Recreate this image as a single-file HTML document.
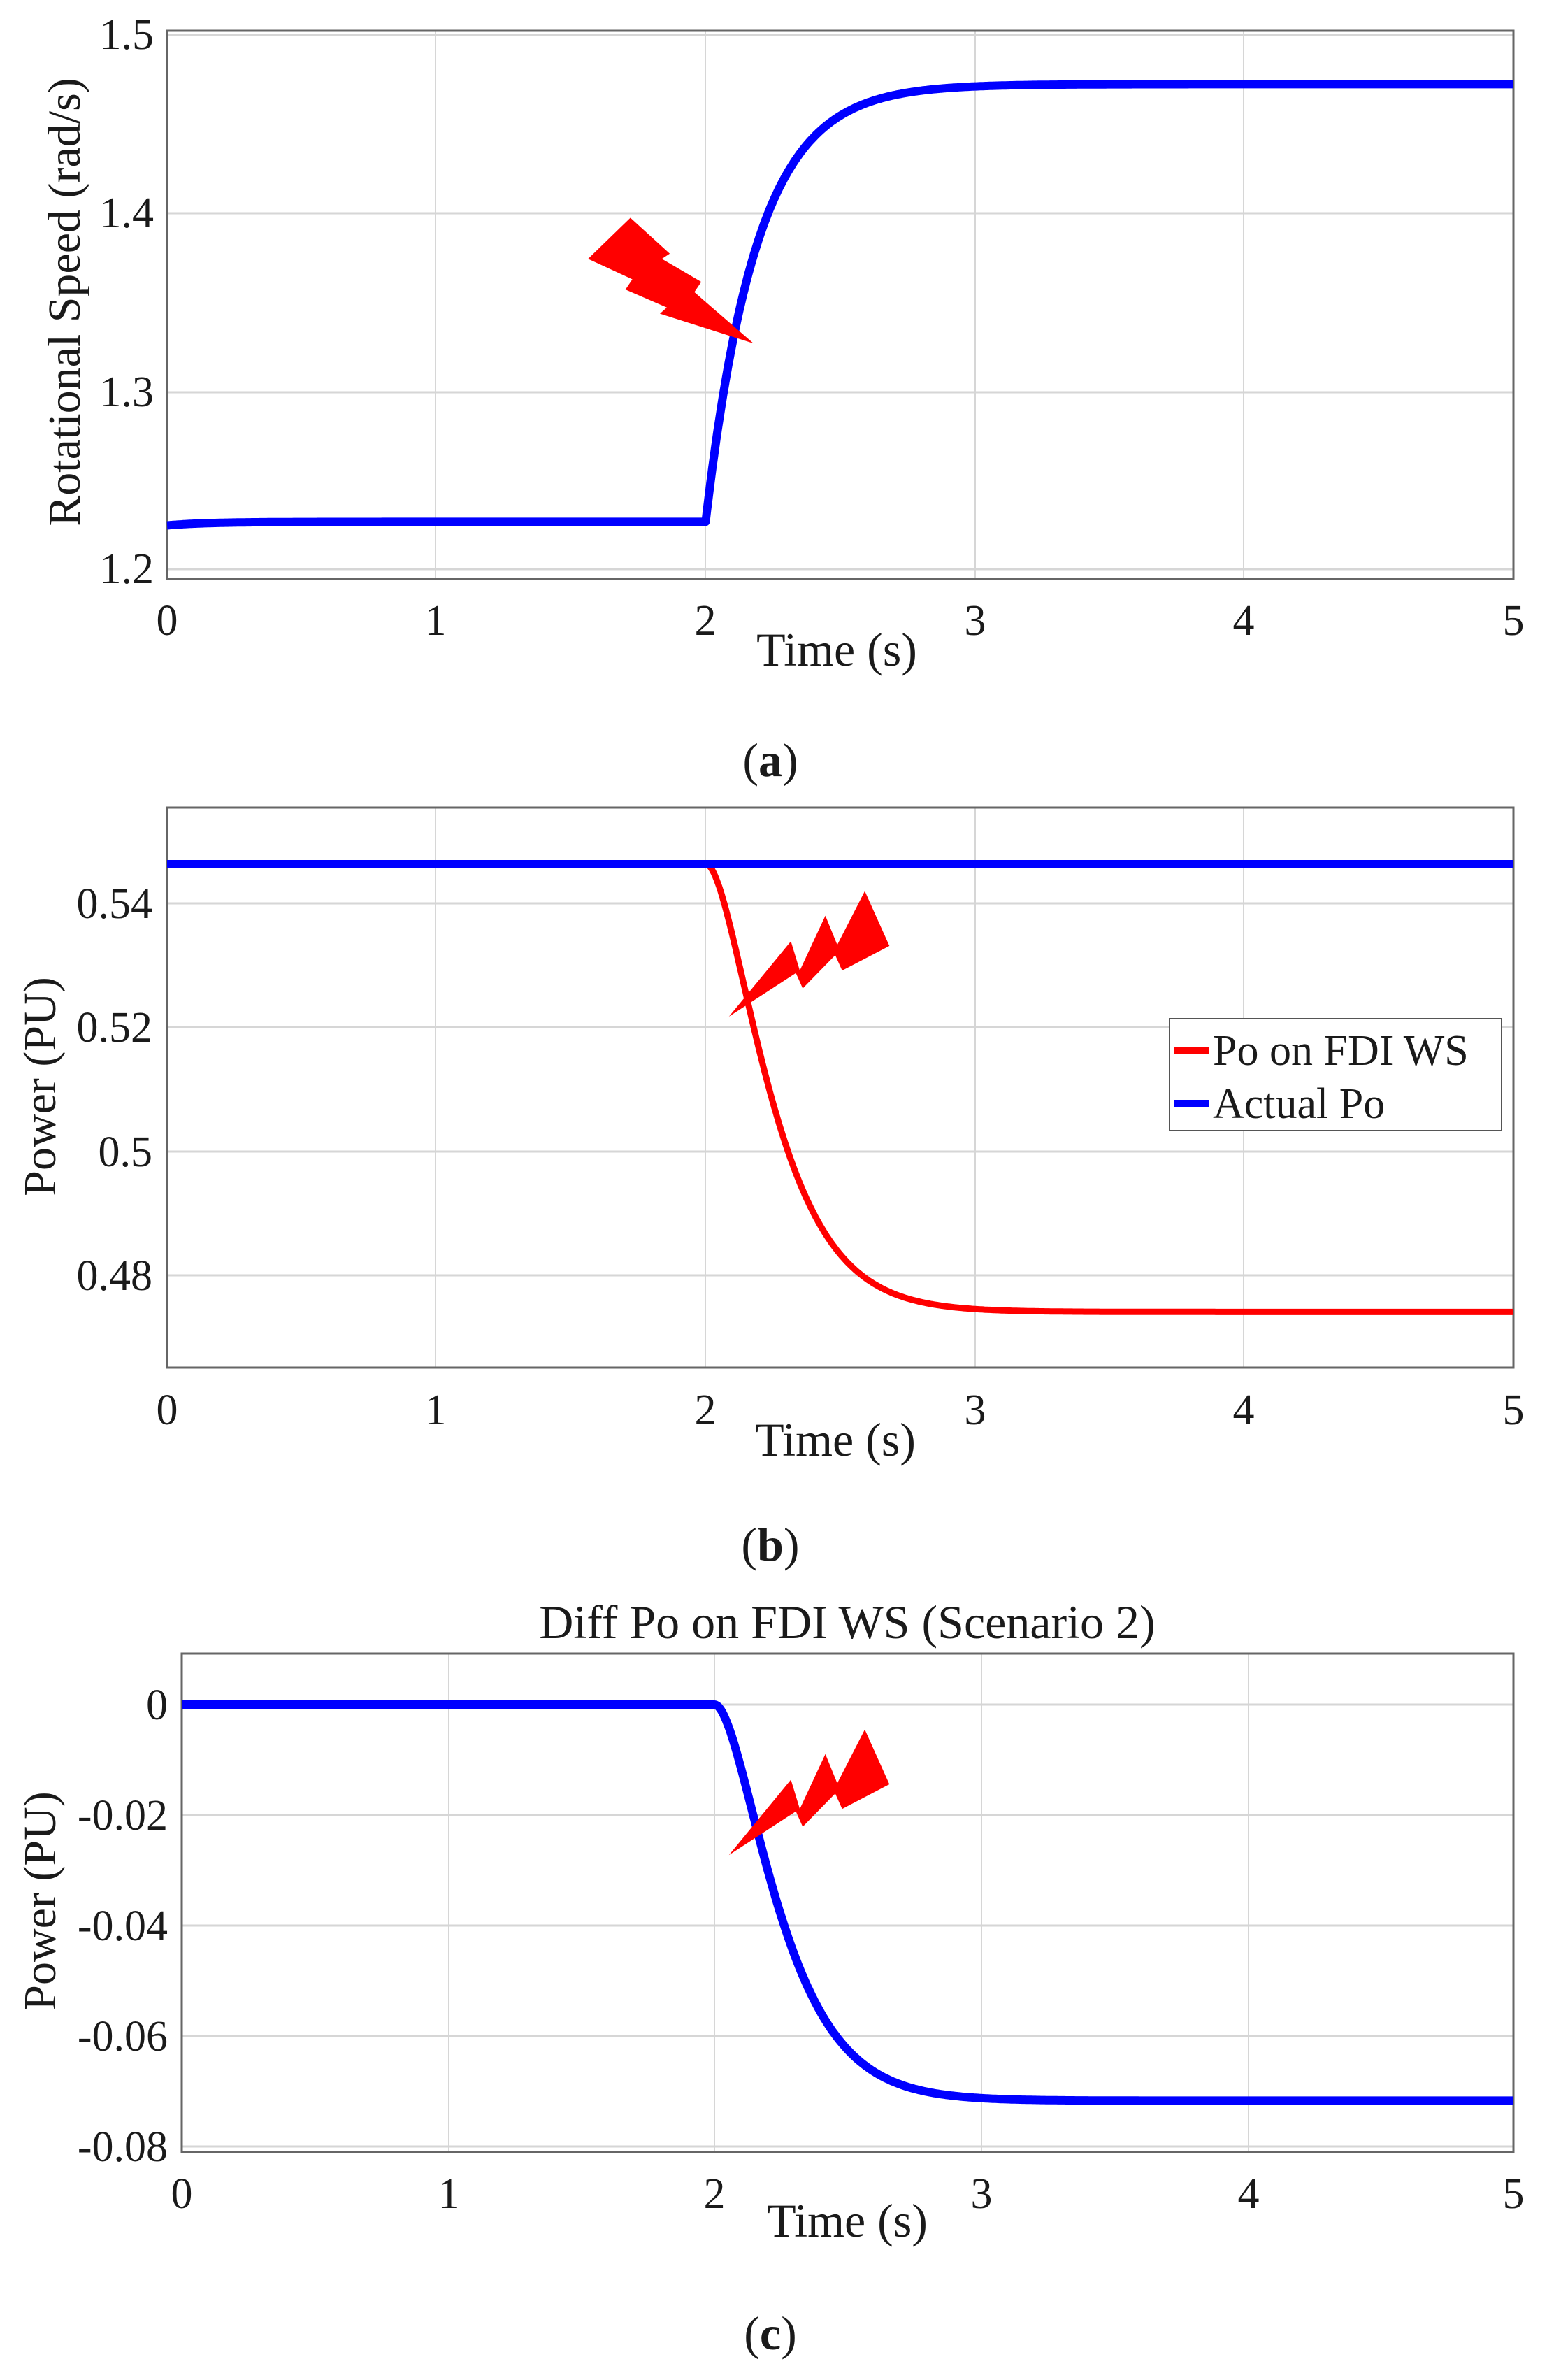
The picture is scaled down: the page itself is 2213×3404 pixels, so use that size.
<!DOCTYPE html>
<html><head><meta charset="utf-8">
<style>
html,body{margin:0;padding:0;background:#fff;}
svg{display:block;}
text{font-family:"Liberation Serif",serif;fill:#1a1a1a;}
</style></head>
<body>
<svg id="s" width="2213" height="3404" viewBox="0 0 2213 3404" xmlns="http://www.w3.org/2000/svg">
<rect width="2213" height="3404" fill="#fff"/>
<g id="g"></g>
<!-- Panel a texts -->
<g font-size="62" text-anchor="end">
<text x="220" y="70">1.5</text>
<text x="220" y="325">1.4</text>
<text x="220" y="581">1.3</text>
<text x="220" y="834">1.2</text>
</g>
<g font-size="62" text-anchor="middle">
<text x="239" y="908">0</text><text x="623" y="908">1</text><text x="1009" y="908">2</text>
<text x="1395" y="908">3</text><text x="1779" y="908">4</text><text x="2165" y="908">5</text>
</g>
<text x="1197" y="952" font-size="68" text-anchor="middle">Time (s)</text>
<text x="92" y="432" font-size="66" text-anchor="middle" transform="rotate(-90 92 432)" dy="22">Rotational Speed (rad/s)</text>
<text x="1102" y="1110" font-size="68" text-anchor="middle"><tspan>(</tspan><tspan font-weight="bold">a</tspan><tspan>)</tspan></text>

<!-- Panel b texts -->
<g font-size="62" text-anchor="end">
<text x="218" y="1313">0.54</text>
<text x="218" y="1490">0.52</text>
<text x="218" y="1668">0.5</text>
<text x="218" y="1845">0.48</text>
</g>
<g font-size="62" text-anchor="middle">
<text x="239" y="2037">0</text><text x="623" y="2037">1</text><text x="1009" y="2037">2</text>
<text x="1395" y="2037">3</text><text x="1779" y="2037">4</text><text x="2165" y="2037">5</text>
</g>
<text x="1195" y="2082" font-size="68" text-anchor="middle">Time (s)</text>
<text x="57" y="1554" font-size="66" text-anchor="middle" transform="rotate(-90 57 1554)" dy="22">Power (PU)</text>
<text x="1102" y="2232" font-size="68" text-anchor="middle"><tspan>(</tspan><tspan font-weight="bold">b</tspan><tspan>)</tspan></text>
<!-- legend -->
<rect x="1673" y="1457" width="475" height="160" fill="#fff" stroke="#555" stroke-width="2"/>
<line x1="1680" y1="1502" x2="1729" y2="1502" stroke="#ff0000" stroke-width="10"/>
<line x1="1680" y1="1578" x2="1729" y2="1578" stroke="#0000ff" stroke-width="10"/>
<text x="1735" y="1523" font-size="62">Po on FDI WS</text>
<text x="1735" y="1599" font-size="62">Actual Po</text>

<!-- Panel c texts -->
<text x="1212" y="2343" font-size="68" text-anchor="middle">Diff Po on FDI WS (Scenario 2)</text>
<g font-size="62" text-anchor="end">
<text x="240" y="2459">0</text>
<text x="240" y="2617">-0.02</text>
<text x="240" y="2775">-0.04</text>
<text x="240" y="2933">-0.06</text>
<text x="240" y="3091">-0.08</text>
</g>
<g font-size="62" text-anchor="middle">
<text x="260" y="3158">0</text><text x="642" y="3158">1</text><text x="1022" y="3158">2</text>
<text x="1404" y="3158">3</text><text x="1786" y="3158">4</text><text x="2165" y="3158">5</text>
</g>
<text x="1212" y="3199" font-size="68" text-anchor="middle">Time (s)</text>
<text x="57" y="2719" font-size="66" text-anchor="middle" transform="rotate(-90 57 2719)" dy="22">Power (PU)</text>
<text x="1102" y="3360" font-size="68" text-anchor="middle"><tspan>(</tspan><tspan font-weight="bold">c</tspan><tspan>)</tspan></text>
</svg>
<script>
(function(){
var g=document.getElementById('g'),NS='http://www.w3.org/2000/svg';
function el(n,a){var e=document.createElementNS(NS,n);for(var k in a)e.setAttribute(k,a[k]);g.appendChild(e);return e;}
function panel(L,R,T,B,xs,ys){
  xs.forEach(function(x){el('line',{x1:x,y1:T,x2:x,y2:B,stroke:'#d6d6d6','stroke-width':2});});
  ys.forEach(function(y){el('line',{x1:L,y1:y,x2:R,y2:y,stroke:'#d6d6d6','stroke-width':3});});
  el('rect',{x:L,y:T,width:R-L,height:B-T,fill:'none',stroke:'#666','stroke-width':3});
}
function curve(L,R,fy,col,w){
  var p=[];for(var i=0;i<=1000;i++){var t=5*i/1000;p.push((L+(R-L)*t/5).toFixed(1)+','+fy(t).toFixed(1));}
  el('polyline',{points:p.join(' '),fill:'none',stroke:col,'stroke-width':w,'stroke-linejoin':'round'});
}
function bolt(pts,sx,sy,oy){
  el('polygon',{points:pts.map(function(p){return (p[0]*sx).toFixed(1)+','+(p[1]*sy+oy).toFixed(1);}).join(' '),fill:'#ff0000'});
}
function sig(s,tau){if(s<=0)return 0;var u=s/tau;return 1-Math.exp(-u)*(1+u);}
var SX=1.409;
// Panel a
panel(239,2165,44,828,[623,1009,1395,1779],[50,305,561,814]);
curve(239,2165,function(t){var v;if(t<2){v=1.2245+0.002*(1-Math.exp(-t/0.15));}else{v=1.2265+0.2455*(1-Math.exp(-(t-2)/0.19));}return 814-(v-1.2)/0.1*255;},'#0000ff',12);
bolt([[640,425],[680,495],[672,505],[712,550],[705,570],[765,670],[670,612],[677,600],[635,565],[642,545],[597,505]],SX,0.733,0);
// Panel b
panel(239,2165,1155,1956,[623,1009,1395,1779],[1292,1469,1647,1824]);
curve(239,2165,function(t){var v=0.5463-0.0722*sig(t-2,0.14);return 1824-(v-0.48)/0.02*177.5;},'#ff0000',9);
curve(239,2165,function(t){return 1236;},'#0000ff',12);
var bp=[[740,550],[803,403],[812,460],[838,353],[850,410],[878,305],[903,412],[855,460],[848,430],[815,495],[808,465]];
bolt(bp,SX,0.733,1100-67*0.733);
// Panel c
panel(260,2165,2365,3078,[642,1022,1404,1786],[2438,2596,2754,2912,3070]);
curve(260,2165,function(t){var v=-0.0717*sig(t-2,0.14);return 2438-v/0.02*158;},'#0000ff',12);
bolt(bp,SX,0.733,2250);
})();
</script>
</body></html>
